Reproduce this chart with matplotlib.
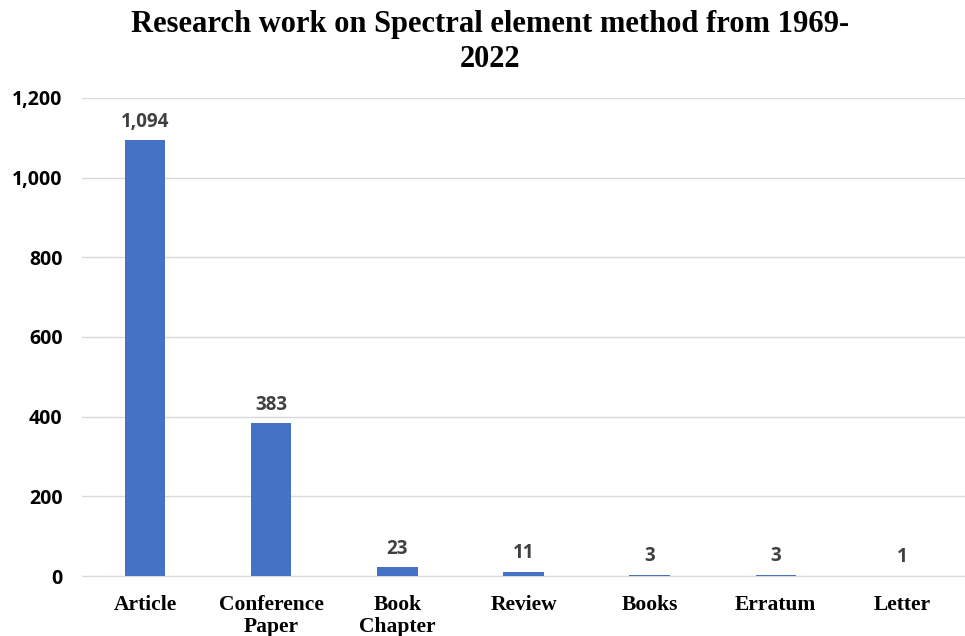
import matplotlib
matplotlib.use("Agg")
import matplotlib.pyplot as plt
from matplotlib.ticker import FuncFormatter

categories = ["Article", "Conference\nPaper", "Book\nChapter", "Review", "Books", "Erratum", "Letter"]
values = [1094, 383, 23, 11, 3, 3, 1]
yticks = [0, 200, 400, 600, 800, 1000, 1200]
title = "Research work on Spectral element method from 1969-\n2022"

fig = plt.figure(figsize=(9.65, 6.36), dpi=100)
ax = fig.add_axes([0.085, 0.0943, 0.915, 0.7517])

x = list(range(len(categories)))
ax.bar(x, values, width=0.32, color="#4472C4", zorder=3)
ax.set_xlim(-0.5, len(categories) - 0.5)
ax.set_ylim(0, 1200)
ax.set_yticks(yticks)
ax.yaxis.set_major_formatter(FuncFormatter(lambda v, p: f"{int(v):,}"))
ax.grid(axis="y", color="#d9d9d9", linewidth=1, zorder=0)
for s in ["top", "right", "left"]:
    ax.spines[s].set_visible(False)
ax.spines["bottom"].set_color("#d9d9d9")
ax.tick_params(axis="both", length=0)
ax.tick_params(axis="y", pad=14)
for lab in ax.get_yticklabels():
    lab.set_fontfamily("Open Sans")
    lab.set_fontweight("bold")
    lab.set_fontsize(14)
    lab.set_color("black")

ax.set_xticks(x)
ax.set_xticklabels(categories, fontfamily="Liberation Serif", fontweight="bold",
                   fontsize=15.5, linespacing=1.12)
ax.tick_params(axis="x", pad=14)

for xi, v in zip(x, values):
    ax.annotate(f"{v:,}", (xi, v), xytext=(0, 6), textcoords="offset points",
                ha="center", va="bottom", fontfamily="Open Sans", fontweight="bold",
                fontsize=13.5, color="#404040")

fig.text(0.508, 0.985, title, ha="center", va="top", fontfamily="Liberation Serif",
         fontweight="bold", fontsize=22, linespacing=1.3)

fig.savefig("out.png", dpi=100)
